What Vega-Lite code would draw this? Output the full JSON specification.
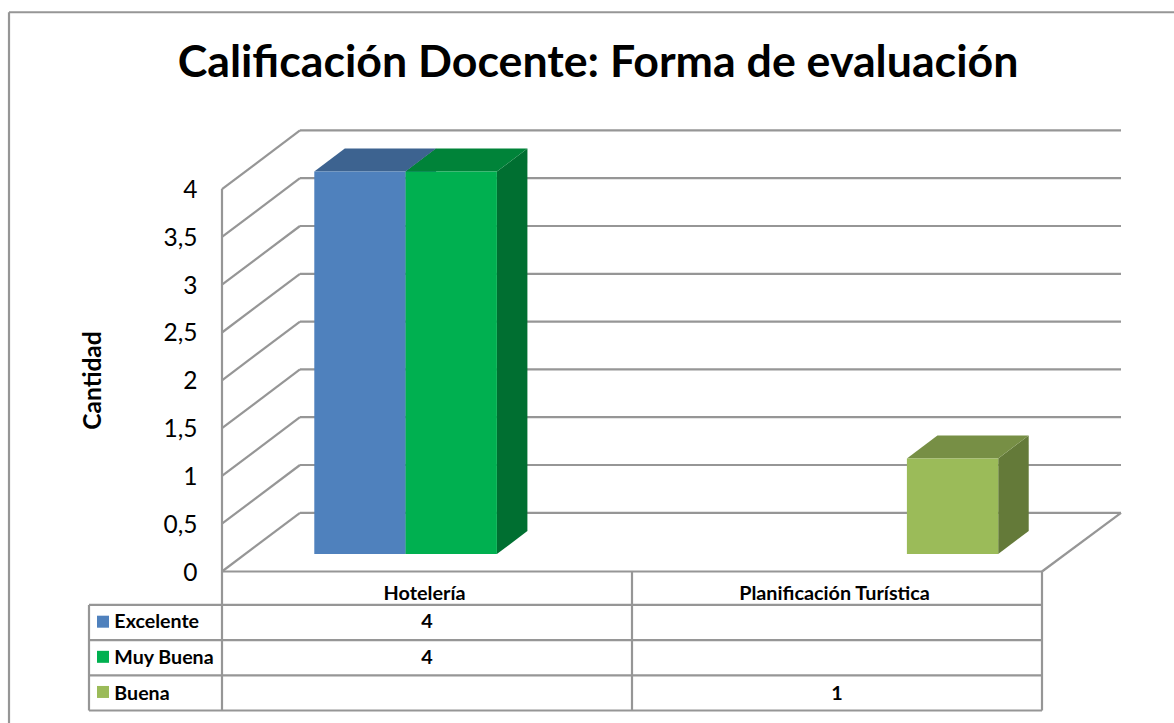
{
"$schema":"https://vega.github.io/schema/vega-lite/v6.json",
"width":1174,"height":723,"padding":0,"autosize":{"type":"none"},
"background":"white",
"config":{"view":{"stroke":null},"font":"Lato"},
"title":{"text":"Calificación Docente: Forma de evaluación","font":"Lato","fontSize":44.7,"fontWeight":"bold","color":"#000000","anchor":"middle","frame":"group","dx":11,"dy":91},
"datasets":{
"calificaciones":[
{"categoria":"Hotelería","serie":"Excelente","valor":4},
{"categoria":"Hotelería","serie":"Muy Buena","valor":4},
{"categoria":"Planificación Turística","serie":"Buena","valor":1}],
"series":[{"serie":"Excelente"},{"serie":"Muy Buena"},{"serie":"Buena"}],
"categorias":[{"categoria":"Hotelería"},{"categoria":"Planificación Turística"}],
"marcas":[{"valor":0},{"valor":0.5},{"valor":1},{"valor":1.5},{"valor":2},{"valor":2.5},{"valor":3},{"valor":3.5},{"valor":4}],
"filas":[{"fila":0},{"fila":1},{"fila":2},{"fila":3}],
"uno":[{"marco":1}]
},
"resolve":{"scale":{"color":"independent"},"axis":{"y":"independent","x":"independent"}},
"layer":[
{"data":{"name":"uno"},"mark":{"type":"rule","color":"#969696","strokeWidth":2.2},
 "encoding":{"x":{"datum":-0.5195,"type":"quantitative","scale":{"domain":[-0.54146,2.32195],"nice":false,"zero":false},"axis":null},"x2":{"datum":-0.5195},
 "y":{"datum":5.85,"type":"quantitative","scale":{"domain":[-1.5847,5.978],"nice":false,"zero":false},"axis":null},"y2":{"datum":-1.5847}}},
{"data":{"name":"uno"},"mark":{"type":"rule","color":"#969696","strokeWidth":2.2},
 "encoding":{"x":{"datum":-0.5195,"type":"quantitative","scale":{"domain":[-0.54146,2.32195],"nice":false,"zero":false},"axis":null},"x2":{"datum":2.32195},
 "y":{"datum":5.85,"type":"quantitative","scale":{"domain":[-1.5847,5.978],"nice":false,"zero":false},"axis":null},"y2":{"datum":5.85}}},
{"data":{"name":"marcas"},"transform":[{"calculate":"datum.valor+0.614","as":"fondo"}],"mark":{"type":"rule","color":"#969696","strokeWidth":2.2},
 "encoding":{"x":{"datum":0.1902,"type":"quantitative","scale":{"domain":[-0.54146,2.32195],"nice":false,"zero":false},"axis":null},"x2":{"datum":2.1927},
 "y":{"field":"fondo","type":"quantitative","scale":{"domain":[-1.5847,5.978],"nice":false,"zero":false},"axis":null}}},
{"data":{"name":"marcas"},"transform":[{"calculate":"datum.valor+0.614","as":"fondo"}],"mark":{"type":"rule","color":"#969696","strokeWidth":2.2},
 "encoding":{"x":{"datum":0,"type":"quantitative","scale":{"domain":[-0.54146,2.32195],"nice":false,"zero":false},"axis":null},"x2":{"datum":0.1902},
 "y":{"field":"valor","type":"quantitative","scale":{"domain":[-1.5847,5.978],"nice":false,"zero":false},
  "axis":{"orient":"left","offset":-222,"values":[0,0.5,1,1.5,2,2.5,3,3.5,4],"labelExpr":"replace(format(datum.value,'~g'),'.',',')","domain":false,"ticks":false,"grid":false,"labelPadding":25,"labelOffset":1.5,"labelFont":"Lato","labelFontSize":24.5,"labelColor":"#000000","labelOverlap":false,"labelBound":false,"labelFlush":false,"title":"Cantidad","titleFont":"Lato","titleFontSize":24.5,"titleFontWeight":"bold","titleColor":"#000000","titleX":-129,"titleY":380,"titleAngle":-90,"titleAlign":"center","titleBaseline":"middle"}},
 "y2":{"field":"fondo"}}},
{"data":{"name":"filas"},"transform":[{"calculate":"-0.35-0.368*datum.fila","as":"yFila"}],"mark":{"type":"rule","color":"#969696","strokeWidth":2.2},
 "encoding":{"x":{"datum":-0.3244,"type":"quantitative","scale":{"domain":[-0.54146,2.32195],"nice":false,"zero":false},"axis":null},"x2":{"datum":2},
 "y":{"field":"yFila","type":"quantitative","scale":{"domain":[-1.5847,5.978],"nice":false,"zero":false},"axis":null}}},
{"data":{"name":"uno"},"mark":{"type":"rule","color":"#969696","strokeWidth":2.2},
 "encoding":{"x":{"datum":0,"type":"quantitative","scale":{"domain":[-0.54146,2.32195],"nice":false,"zero":false},"axis":null},"x2":{"datum":2},
 "y":{"datum":0,"type":"quantitative","scale":{"domain":[-1.5847,5.978],"nice":false,"zero":false},"axis":null},"y2":{"datum":0}}},
{"data":{"name":"uno"},"mark":{"type":"rule","color":"#969696","strokeWidth":2.2},
 "encoding":{"x":{"datum":2,"type":"quantitative","scale":{"domain":[-0.54146,2.32195],"nice":false,"zero":false},"axis":null},"x2":{"datum":2.1927},
 "y":{"datum":0,"type":"quantitative","scale":{"domain":[-1.5847,5.978],"nice":false,"zero":false},"axis":null},"y2":{"datum":0.614}}},
{"data":{"name":"uno"},"mark":{"type":"rule","color":"#969696","strokeWidth":2.2},
 "encoding":{"x":{"datum":-0.3244,"type":"quantitative","scale":{"domain":[-0.54146,2.32195],"nice":false,"zero":false},"axis":null},"x2":{"datum":-0.3244},
 "y":{"datum":-0.35,"type":"quantitative","scale":{"domain":[-1.5847,5.978],"nice":false,"zero":false},"axis":null},"y2":{"datum":-1.454}}},
{"data":{"name":"uno"},"mark":{"type":"rule","color":"#969696","strokeWidth":2.2},
 "encoding":{"x":{"datum":0,"type":"quantitative","scale":{"domain":[-0.54146,2.32195],"nice":false,"zero":false},"axis":null},"x2":{"datum":0},
 "y":{"datum":4,"type":"quantitative","scale":{"domain":[-1.5847,5.978],"nice":false,"zero":false},"axis":null},"y2":{"datum":-1.454}}},
{"data":{"name":"uno"},"mark":{"type":"rule","color":"#969696","strokeWidth":2.2},
 "encoding":{"x":{"datum":1,"type":"quantitative","scale":{"domain":[-0.54146,2.32195],"nice":false,"zero":false},"axis":null},"x2":{"datum":1},
 "y":{"datum":0,"type":"quantitative","scale":{"domain":[-1.5847,5.978],"nice":false,"zero":false},"axis":null},"y2":{"datum":-1.454}}},
{"data":{"name":"uno"},"mark":{"type":"rule","color":"#969696","strokeWidth":2.2},
 "encoding":{"x":{"datum":2,"type":"quantitative","scale":{"domain":[-0.54146,2.32195],"nice":false,"zero":false},"axis":null},"x2":{"datum":2},
 "y":{"datum":0,"type":"quantitative","scale":{"domain":[-1.5847,5.978],"nice":false,"zero":false},"axis":null},"y2":{"datum":-1.454}}},
{"data":{"name":"calificaciones"},
 "transform":[
  {"calculate":"indexof(['Hotelería','Planificación Turística'],datum.categoria)+0.2251+0.2227*indexof(['Excelente','Muy Buena','Buena'],datum.serie)","as":"x0"},
  {"calculate":"datum.x0+0.2227","as":"x1"},
  {"calculate":"0.183+datum.valor","as":"t"},
  {"calculate":"[datum.x1,datum.x1+0.0744]","as":"xs"},
  {"calculate":"[0.183,0.183+0.2406]","as":"lo"},
  {"calculate":"[datum.t,datum.t+0.2406]","as":"hi"},
  {"flatten":["xs","lo","hi"]}],
 "mark":{"type":"area","opacity":1},
 "encoding":{"x":{"field":"xs","type":"quantitative","scale":{"domain":[-0.54146,2.32195],"nice":false,"zero":false},"axis":null},
  "y":{"field":"hi","type":"quantitative","stack":null,"scale":{"domain":[-1.5847,5.978],"nice":false,"zero":false},"axis":null},"y2":{"field":"lo"},
  "color":{"field":"serie","type":"nominal","legend":null,"scale":{"domain":["Excelente","Muy Buena","Buena"],"range":["#335480","#006f31","#647a39"]}}}},
{"data":{"name":"calificaciones"},
 "transform":[
  {"calculate":"indexof(['Hotelería','Planificación Turística'],datum.categoria)+0.2251+0.2227*indexof(['Excelente','Muy Buena','Buena'],datum.serie)","as":"x0"},
  {"calculate":"datum.x0+0.2227","as":"x1"},
  {"calculate":"0.183+datum.valor","as":"t"},
  {"calculate":"[datum.x0,datum.x0+0.0744,datum.x1,datum.x1+0.0744]","as":"xs"},
  {"calculate":"[datum.t,datum.t,datum.t,datum.t+0.2406]","as":"lo"},
  {"calculate":"[datum.t,datum.t+0.2406,datum.t+0.2406,datum.t+0.2406]","as":"hi"},
  {"flatten":["xs","lo","hi"]}],
 "mark":{"type":"area","opacity":1},
 "encoding":{"x":{"field":"xs","type":"quantitative","scale":{"domain":[-0.54146,2.32195],"nice":false,"zero":false},"axis":null},
  "y":{"field":"hi","type":"quantitative","stack":null,"scale":{"domain":[-1.5847,5.978],"nice":false,"zero":false},"axis":null},"y2":{"field":"lo"},
  "color":{"field":"serie","type":"nominal","legend":null,"scale":{"domain":["Excelente","Muy Buena","Buena"],"range":["#3d6390","#008339","#778f45"]}}}},
{"data":{"name":"calificaciones"},
 "transform":[
  {"calculate":"indexof(['Hotelería','Planificación Turística'],datum.categoria)+0.2251+0.2227*indexof(['Excelente','Muy Buena','Buena'],datum.serie)","as":"x0"},
  {"calculate":"datum.x0+0.2227","as":"x1"},
  {"calculate":"0.183+datum.valor","as":"t"},
  {"calculate":"0.183","as":"b"}],
 "mark":{"type":"rect"},
 "encoding":{"x":{"field":"x0","type":"quantitative","scale":{"domain":[-0.54146,2.32195],"nice":false,"zero":false},"axis":null},"x2":{"field":"x1"},
  "y":{"field":"t","type":"quantitative","scale":{"domain":[-1.5847,5.978],"nice":false,"zero":false},"axis":null},"y2":{"field":"b"},
  "color":{"field":"serie","type":"nominal","legend":null,"scale":{"domain":["Excelente","Muy Buena","Buena"],"range":["#4f81bd","#00b050","#9bbb59"]}}}},
{"data":{"name":"series"},
 "transform":[{"calculate":"-0.525-0.3675*indexof(['Excelente','Muy Buena','Buena'],datum.serie)","as":"yCuadro"}],
 "mark":{"type":"point","shape":"square","filled":true,"opacity":1,"size":144},
 "encoding":{"x":{"datum":-0.2902,"type":"quantitative","scale":{"domain":[-0.54146,2.32195],"nice":false,"zero":false},"axis":null},
  "y":{"field":"yCuadro","type":"quantitative","scale":{"domain":[-1.5847,5.978],"nice":false,"zero":false},"axis":null},
  "color":{"field":"serie","type":"nominal","legend":null,"scale":{"domain":["Excelente","Muy Buena","Buena"],"range":["#4f81bd","#00b050","#9bbb59"]}}}},
{"data":{"name":"series"},
 "transform":[{"calculate":"-0.5858-0.3775*indexof(['Excelente','Muy Buena','Buena'],datum.serie)","as":"yTexto"}],
 "mark":{"type":"text","align":"left","baseline":"alphabetic","font":"Lato","fontWeight":"bold","fontSize":19.6,"color":"#000000"},
 "encoding":{"x":{"datum":-0.2625,"type":"quantitative","scale":{"domain":[-0.54146,2.32195],"nice":false,"zero":false},"axis":null},
  "y":{"field":"yTexto","type":"quantitative","scale":{"domain":[-1.5847,5.978],"nice":false,"zero":false},"axis":null},
  "text":{"field":"serie","type":"nominal"}}},
{"data":{"name":"categorias"},
 "transform":[{"calculate":"indexof(['Hotelería','Planificación Turística'],datum.categoria)+0.494","as":"xTexto"}],
 "mark":{"type":"text","align":"center","baseline":"alphabetic","font":"Lato","fontWeight":"bold","fontSize":19.8,"color":"#000000"},
 "encoding":{"x":{"field":"xTexto","type":"quantitative","scale":{"domain":[-0.54146,2.32195],"nice":false,"zero":false},"axis":null},
  "y":{"datum":-0.298,"type":"quantitative","scale":{"domain":[-1.5847,5.978],"nice":false,"zero":false},"axis":null},
  "text":{"field":"categoria","type":"nominal"}}},
{"data":{"name":"calificaciones"},
 "transform":[
  {"calculate":"indexof(['Hotelería','Planificación Turística'],datum.categoria)+0.5","as":"xTexto"},
  {"calculate":"-0.5858-0.3775*indexof(['Excelente','Muy Buena','Buena'],datum.serie)","as":"yTexto"}],
 "mark":{"type":"text","align":"center","baseline":"alphabetic","font":"Lato","fontWeight":"bold","fontSize":19.8,"color":"#000000"},
 "encoding":{"x":{"field":"xTexto","type":"quantitative","scale":{"domain":[-0.54146,2.32195],"nice":false,"zero":false},"axis":null},
  "y":{"field":"yTexto","type":"quantitative","scale":{"domain":[-1.5847,5.978],"nice":false,"zero":false},"axis":null},
  "text":{"field":"valor","type":"quantitative"}}}
]
}
